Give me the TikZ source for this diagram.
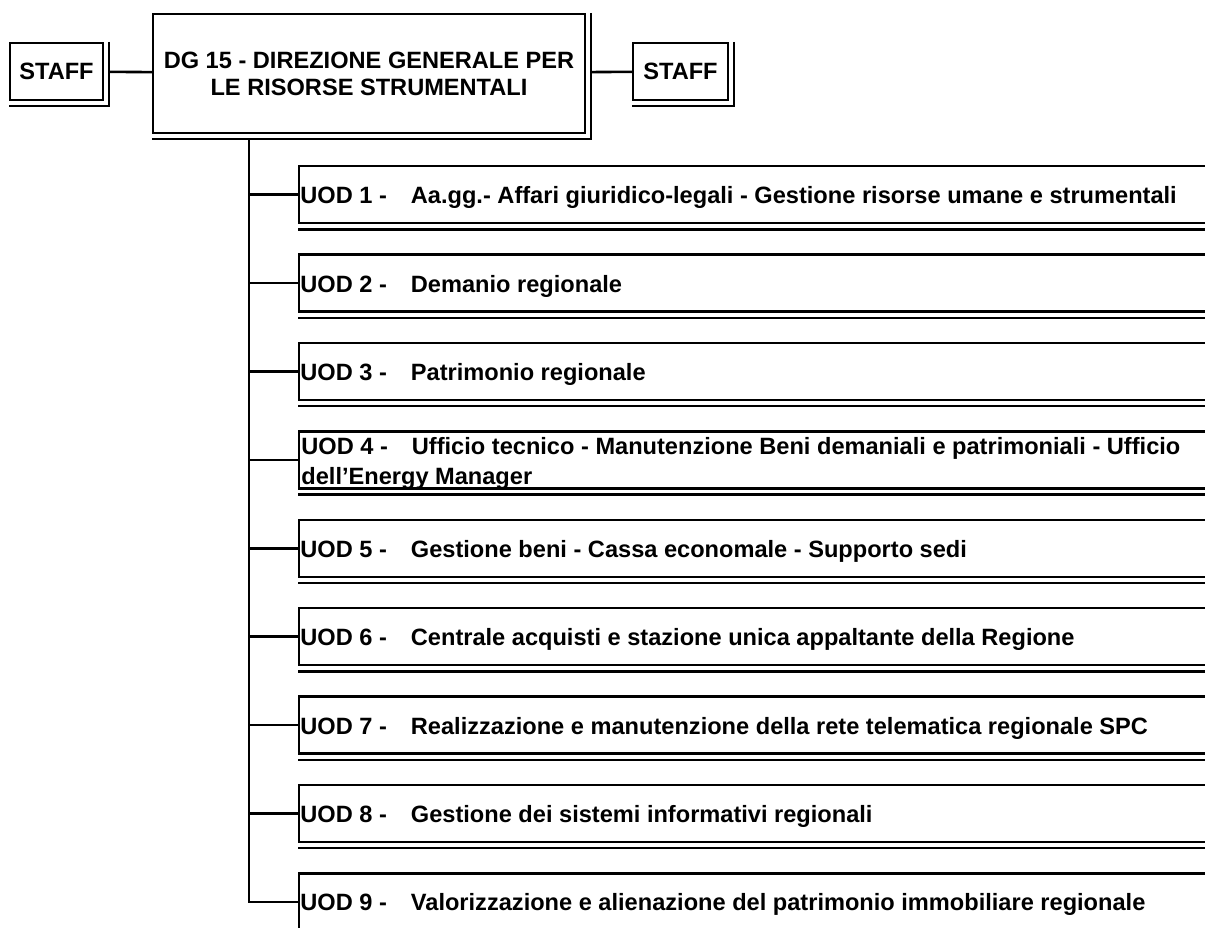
\documentclass[tikz,border=0pt]{standalone}
\usepackage{fontspec}
\setmainfont{Liberation Sans}
\usetikzlibrary{positioning}

% second line along the bottom and the right side of a box
\newcommand{\dblline}[1]{%
  \draw[line width=1.2pt] ([xshift=2.5pt]#1.north east) -- ([shift={(2.5pt,-2.5pt)}]#1.south east) -- ([yshift=-2.5pt]#1.south west);}

\tikzset{
  box/.style={draw, line width=1.2pt, fill=white, inner sep=0pt},
  head/.style={font=\bfseries\fontsize{11.8}{13.5}\selectfont},
  lbl/.style={font=\bfseries\fontsize{11.8}{15}\selectfont, inner sep=0pt, anchor=base west},
  link/.style={line width=1.3pt},
}

\begin{document}
\begin{tikzpicture}[x=0.5pt, y=-0.5pt]
    \useasboundingbox (0,0) rectangle (1205,927);
    \clip (0,0) rectangle (1205,927);

    % Top level
    \node[box, head, minimum width=216pt, minimum height=59.5pt, align=center] (dg) at (369,73.5)
        {DG 15 - DIREZIONE GENERALE PER\\LE RISORSE STRUMENTALI};
    \node[box, head, minimum width=46.5pt, minimum height=28.5pt] (staffl) at (56.5,71.5) {STAFF};
    \node[box, head, minimum width=47.5pt, minimum height=28.5pt] (staffr) at (680.5,71.5) {STAFF};
    \dblline{dg}
    \dblline{staffl}
    \dblline{staffr}

    \draw[link, shorten <=2.5pt] (staffl) -- (dg);
    \draw[link, shorten <=2.5pt] (dg) -- (staffr);

    % UOD boxes
    \foreach \i/\t in {1/{Aa.gg.- Affari giuridico-legali - Gestione risorse umane e strumentali},
                       2/{Demanio regionale},
                       3/{Patrimonio regionale},
                       4/{},
                       5/{Gestione beni - Cassa economale - Supporto sedi},
                       6/{Centrale acquisti e stazione unica appaltante della Regione},
                       7/{Realizzazione e manutenzione della rete telematica regionale SPC},
                       8/{Gestione dei sistemi informativi regionali},
                       9/{Valorizzazione e alienazione del patrimonio immobiliare regionale}}{
        \node[box, anchor=north west, minimum width=465pt, minimum height=28.5pt] (u\i) at (298,{165+(\i-1)*88.4}) {};
        \dblline{u\i}
        \ifnum\i=4\else
            \node[lbl] (t\i) at ([shift={(1pt,-4.5pt)}]u\i.west) {UOD \i{} -\hspace{12pt}\t};
        \fi
    }
    \node[lbl, anchor=north west, align=left] (t4) at (301,437)
        {UOD 4 -\hspace{12pt}Ufficio tecnico - Manutenzione Beni demaniali e patrimoniali - Ufficio\\dell'Energy Manager};

    % Trunk and branches
    \coordinate (trunk) at (249,0);
    \draw[link, shorten <=2.5pt] (trunk |- dg.south) -- (trunk |- u9.west) -- (u9.west);
    \foreach \i in {1,...,8}
        \draw[link] (trunk |- u\i.west) -- (u\i.west);
\end{tikzpicture}
\end{document}
